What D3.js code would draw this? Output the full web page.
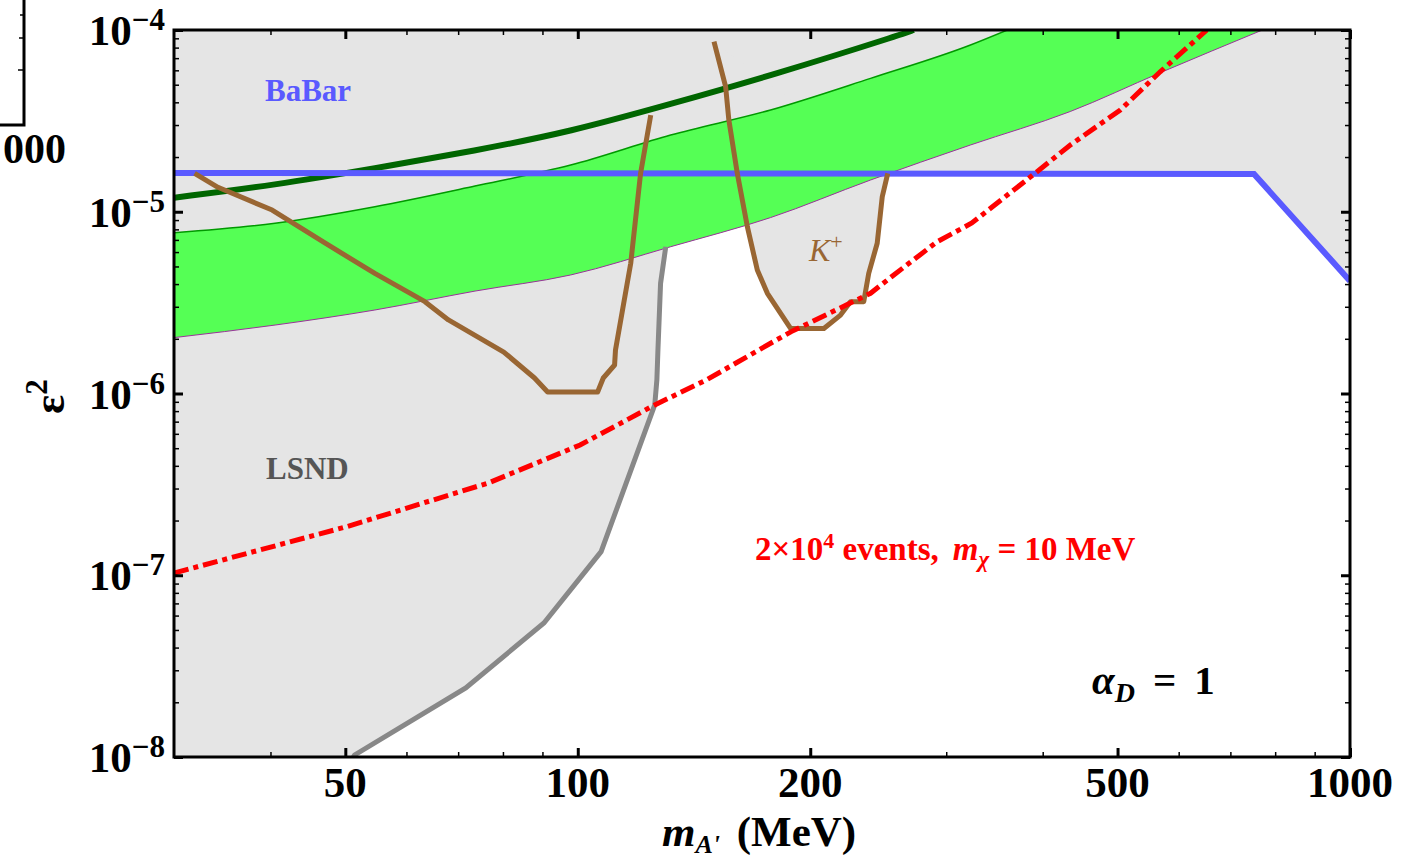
<!DOCTYPE html>
<html>
<head>
<meta charset="utf-8">
<script src="https://cdn.jsdelivr.net/npm/d3@7"></script>
<style>
  body { margin: 0; background: #fff; }
  svg text { font-family: "Liberation Serif", "Times New Roman", serif; }
</style>
</head>
<body>
<div id="chart"></div>
<script>
// values (mass in MeV, epsilon^2)
const relicMass = [30, 40.55, 54.6, 73.6, 97.9, 131.9, 177.7, 269.7, 272];
const relicEps  = [1.195e-5, 1.403e-5, 1.734e-5, 2.168e-5, 2.757e-5, 3.915e-5, 5.6e-5, 9.79e-5, 1e-4];

const bandUpMass = [30, 40.55, 54.6, 73.6, 97.9, 131.9, 177.7, 239.4, 322.5, 360];
const bandUpEps  = [7.67e-6, 8.64e-6, 1.066e-5, 1.385e-5, 1.808e-5, 2.644e-5, 3.63e-5, 5.42e-5, 8.27e-5, 1e-4];

const bandLoMass = [30, 40.55, 54.6, 73.6, 97.9, 131.9, 177.7, 239.4, 322.5, 434.2, 567.8, 770];
const bandLoEps  = [2.03e-6, 2.38e-6, 2.88e-6, 3.66e-6, 4.49e-6, 6.42e-6, 9.29e-6, 1.495e-5, 2.33e-5, 3.56e-5, 5.82e-5, 1e-4];

const babarMass = [30, 751, 1000];
const babarEps  = [1.633e-5, 1.613e-5, 4.16e-6];

const lsndMass = [130, 128, 127, 126.6, 125.8, 107.2, 90.4, 71.6, 51.4, 51.2];
const lsndEps  = [6.42e-6, 4.04e-6, 1.735e-6, 1.19e-6, 8.65e-7, 1.348e-7, 5.46e-8, 2.4e-8, 1.026e-8, 1e-8];

const kaonAMass = [31.9, 34.2, 40.2, 47.1, 54.6, 63.4, 68.0, 80.2, 87.9, 91.4, 106.1, 107.9, 111.6, 111.9, 117.1, 120.6, 124.3];
const kaonAEps  = [1.627e-5, 1.363e-5, 1.022e-5, 6.71e-6, 4.58e-6, 3.2e-6, 2.54e-6, 1.69e-6, 1.217e-6, 1.02e-6, 1.02e-6, 1.217e-6, 1.435e-6, 1.735e-6, 5.2e-6, 1.627e-5, 3.4e-5];

const kaonBMass = [150.1, 155.4, 156.9, 160.9, 165.8, 170.8, 176, 188.6, 208.3, 218.9, 225.5, 234.6, 238.1, 244.2, 247.9, 252];
const kaonBEps  = [8.62e-5, 4.88e-5, 3.2e-5, 1.627e-5, 8.28e-6, 4.78e-6, 3.56e-6, 2.28e-6, 2.28e-6, 2.7e-6, 3.2e-6, 3.2e-6, 4.58e-6, 6.71e-6, 1.21e-5, 1.627e-5];

const projMass = [30, 50.2, 76.6, 100.7, 125.8, 146.9, 177.7, 189, 239.4, 256.6, 292, 323.8, 393.3, 434.3, 504.1, 567.8, 652.6];
const projEps  = [1.029e-7, 1.85e-7, 3.22e-7, 5.21e-7, 8.65e-7, 1.19e-6, 1.89e-6, 2.19e-6, 3.56e-6, 4.49e-6, 6.84e-6, 8.67e-6, 1.661e-5, 2.33e-5, 3.63e-5, 5.89e-5, 1e-4];

const xMajor = [50, 100, 200, 500, 1000];
const xMinor = [40, 60, 70, 80, 90, 300, 400, 600, 700, 800, 900];
const yMajor = [1e-8, 1e-7, 1e-6, 1e-5, 1e-4];
const yExp   = ["\u22128", "\u22127", "\u22126", "\u22125", "\u22124"];

const zip = (m, e) => m.map((d, i) => [d, e[i]]);

const W = 1408, H = 862;
const L = 174, R = 1350, T = 30, B = 757;

const svg = d3.select("#chart").append("svg")
    .attr("width", W)
    .attr("height", H);

const x = d3.scaleLog().domain([30, 1000]).range([L, R]);
const y = d3.scaleLog().domain([1e-8, 1e-4]).range([B, T]);

svg.append("clipPath").attr("id", "plot")
    .append("rect").attr("x", L).attr("y", T).attr("width", R - L).attr("height", B - T);

const plot = svg.append("g").attr("clip-path", "url(#plot)");

const straight = d3.line().x(d => x(d[0])).y(d => y(d[1]));
const smooth = d3.line().x(d => x(d[0])).y(d => y(d[1])).curve(d3.curveMonotoneX);
const rounder = d3.line().x(d => x(d[0])).y(d => y(d[1])).curve(d3.curveBasis);

const gray = "#e5e5e5";
const topLeft = [30, 1e-4];

// excluded regions (grey)
plot.append("path")
    .attr("d", straight(zip(babarMass, babarEps).concat([[1000, 1e-4], topLeft])) + "Z")
    .attr("fill", gray);
plot.append("path")
    .attr("d", smooth(zip(bandLoMass, bandLoEps)) + "L" + x(30) + "," + y(1e-4) + "Z")
    .attr("fill", gray);
plot.append("path")
    .attr("d", straight(zip(lsndMass, lsndEps).concat([[30, 1e-8], topLeft, [130, 1e-4]])) + "Z")
    .attr("fill", gray);
plot.append("path")
    .attr("d", straight(zip(kaonBMass, kaonBEps)) + "Z")
    .attr("fill", gray);

// green band
const upPts = zip(bandUpMass, bandUpEps);
const loPts = zip(bandLoMass, bandLoEps);
const loBack = smooth(loPts.slice().reverse());
plot.append("path")
    .attr("d", smooth(upPts) + "L" + loBack.slice(1) + "Z")
    .attr("fill", "#55ff55");
plot.append("path")
    .attr("d", smooth(upPts))
    .attr("fill", "none").attr("stroke", "#009900").attr("stroke-width", 1.5);
plot.append("path")
    .attr("d", smooth(loPts))
    .attr("fill", "none").attr("stroke", "#993399").attr("stroke-width", 1);

// curves
plot.append("path")
    .attr("d", rounder(zip(relicMass, relicEps)))
    .attr("fill", "none").attr("stroke", "#006600").attr("stroke-width", 6);

plot.append("path")
    .attr("d", straight(zip(babarMass, babarEps)))
    .attr("fill", "none").attr("stroke", "#5a5aff").attr("stroke-width", 6);

plot.append("path")
    .attr("d", straight(zip(lsndMass, lsndEps)))
    .attr("fill", "none").attr("stroke", "#888888").attr("stroke-width", 5);

[zip(kaonAMass, kaonAEps), zip(kaonBMass, kaonBEps)].forEach(pts => {
    plot.append("path")
        .attr("d", straight(pts))
        .attr("fill", "none").attr("stroke", "#996633").attr("stroke-width", 5)
        .attr("stroke-linejoin", "round");
});

plot.append("path")
    .attr("d", straight(zip(projMass, projEps)))
    .attr("fill", "none").attr("stroke", "#ff0000").attr("stroke-width", 5)
    .attr("stroke-dasharray", "15,5,5,5");

// frame and ticks
svg.append("rect")
    .attr("x", L).attr("y", T).attr("width", R - L).attr("height", B - T)
    .attr("fill", "none").attr("stroke", "#000").attr("stroke-width", 3);

function ticks(axis, tr, vals, size, w) {
    const g = svg.append("g").attr("transform", tr)
        .call(axis.tickValues(vals).tickSize(size).tickFormat(""));
    g.select(".domain").remove();
    g.selectAll(".tick line").attr("stroke-width", w);
}
const yMinor = y.ticks().filter(v => !yMajor.includes(v));
ticks(d3.axisBottom(x), `translate(0,${B})`, xMajor, -9, 3);
ticks(d3.axisBottom(x), `translate(0,${B})`, xMinor, -5, 1.5);
ticks(d3.axisTop(x), `translate(0,${T})`, xMajor, -9, 3);
ticks(d3.axisTop(x), `translate(0,${T})`, xMinor, -5, 1.5);
ticks(d3.axisLeft(y), `translate(${L},0)`, yMajor, -9, 3);
ticks(d3.axisLeft(y), `translate(${L},0)`, yMinor, -5, 1.5);
ticks(d3.axisRight(y), `translate(${R},0)`, yMajor, -9, 3);
ticks(d3.axisRight(y), `translate(${R},0)`, yMinor, -5, 1.5);

// tick labels
svg.append("g").selectAll("text")
    .data(xMajor)
    .join("text")
    .attr("x", d => x(d))
    .attr("y", B + 40)
    .attr("text-anchor", "middle")
    .attr("font-size", 43)
    .attr("font-weight", "bold")
    .text(d => d);

const yl = svg.append("g").selectAll("text")
    .data(yMajor)
    .join("text")
    .attr("x", 165)
    .attr("y", d => y(d) + 15)
    .attr("text-anchor", "end")
    .attr("font-size", 43)
    .attr("font-weight", "bold");
yl.append("tspan").text("10");
yl.append("tspan").attr("dy", -15).attr("font-size", 31).text((d, i) => yExp[i]);

// axis titles
const xt = svg.append("text")
    .attr("x", 662).attr("y", 846)
    .attr("font-size", 43).attr("font-weight", "bold");
xt.append("tspan").attr("font-style", "italic").text("m");
xt.append("tspan").attr("font-style", "italic").attr("font-size", 26).attr("dy", 7).text("A'");
xt.append("tspan").attr("dy", -7).attr("dx", 6).text(" (MeV)");

const yt = svg.append("text")
    .attr("transform", "translate(64,414) rotate(-90)")
    .attr("font-size", 45).attr("font-weight", "bold");
yt.append("tspan").text("\u03b5");
yt.append("tspan").attr("dy", -17).attr("font-size", 31).text("2");

// annotations
svg.append("text").attr("x", 265).attr("y", 101)
    .attr("font-size", 31).attr("font-weight", "bold").attr("fill", "#5a5aff")
    .text("BaBar");
svg.append("text").attr("x", 266).attr("y", 479)
    .attr("font-size", 31).attr("font-weight", "bold").attr("fill", "#555555")
    .text("LSND");

const kt = svg.append("text").attr("x", 809).attr("y", 261)
    .attr("font-size", 32).attr("fill", "#996633");
kt.append("tspan").attr("font-style", "italic").text("K");
kt.append("tspan").attr("dy", -12).attr("font-size", 22).text("+");

const rt = svg.append("text").attr("x", 755).attr("y", 560)
    .attr("font-size", 33).attr("font-weight", "bold").attr("fill", "#ff0000");
rt.append("tspan").text("2\u00d710");
rt.append("tspan").attr("dy", -12).attr("font-size", 22).text("4");
rt.append("tspan").attr("dy", 12).text(" events,");
rt.append("tspan").attr("dx", 14).attr("font-style", "italic").text("m");
rt.append("tspan").attr("font-style", "italic").attr("font-size", 23).attr("dy", 7).text("\u03c7");
rt.append("tspan").attr("dy", -7).text(" = 10 MeV");

const at = svg.append("text").attr("x", 1092).attr("y", 694)
    .attr("font-size", 41).attr("font-weight", "bold").attr("fill", "#000");
at.append("tspan").attr("font-style", "italic").text("\u03b1");
at.append("tspan").attr("font-style", "italic").attr("font-size", 28).attr("dy", 8).text("D");
at.append("tspan").attr("dy", -8).attr("dx", 18).text("=");
at.append("tspan").attr("dx", 18).text("1");

// edge of the neighbouring panel
const side = svg.append("g").attr("stroke", "#000");
side.append("path").attr("d", "M24,0V125H0").attr("fill", "none").attr("stroke-width", 3);
side.selectAll(".st").data([15, 38, 70]).join("line")
    .attr("x1", 24).attr("x2", (d, i) => 20 - i).attr("y1", d => d).attr("y2", d => d)
    .attr("stroke-width", 1.5);
svg.append("text").attr("x", 66).attr("y", 163)
    .attr("text-anchor", "end").attr("font-size", 42).attr("font-weight", "bold")
    .text("000");
</script>
</body>
</html>
